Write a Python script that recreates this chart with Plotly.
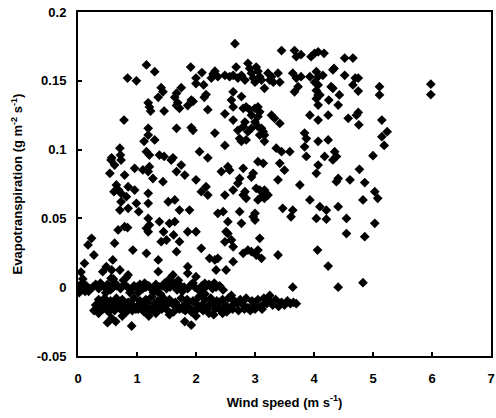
import plotly.graph_objects as go

# --- data (wind speed m/s, evapotranspiration g m-2 s-1) ---

# upper cloud, ET above ~0.09
upper_wind = [
    1.16, 1.30, 0.84, 0.99, 1.91, 2.10, 2.29, 2.32, 2.26, 2.00, 2.00, 2.13, 2.17, 2.14,
    1.75, 1.67, 1.64, 1.69, 1.67, 1.72, 1.41, 1.44, 1.36, 1.92, 1.86, 1.95, 1.19, 1.21,
    1.23, 1.46, 2.20, 0.78, 1.67, 1.92, 1.95, 2.32, 1.19, 1.19, 1.12, 1.30, 0.71, 0.72,
    0.57, 1.16, 1.21, 1.38, 1.46, 1.61, 2.06, 2.20,
    2.66, 3.45, 3.67, 3.70, 3.78, 3.95, 4.01, 4.07, 4.17, 4.52, 4.66, 4.34, 4.52, 4.70,
    2.37, 2.49, 2.57, 2.63, 2.68, 2.71, 2.77, 2.83, 2.88, 2.91, 2.94, 2.97, 3.00, 3.02,
    3.05, 3.08, 3.11, 3.22, 3.28, 3.31, 3.25, 3.39, 3.42, 3.16, 2.63, 2.77, 2.60, 2.63,
    2.49, 2.63, 2.80, 2.85, 2.91, 2.94, 3.00, 3.05, 3.08, 3.05, 3.00, 2.83, 2.80, 2.94,
    3.05, 3.11, 3.14, 3.08, 2.88, 2.71, 2.74, 2.77, 2.85, 3.16, 3.16, 3.28, 3.33, 3.42,
    2.49, 3.36, 3.45, 3.59, 3.64, 3.70, 3.78, 3.67, 3.73, 3.93, 4.04, 4.07, 4.15, 4.01,
    4.07, 4.04, 4.07, 4.04, 4.10, 4.07, 4.29, 4.32, 4.43, 4.25, 4.41, 3.93, 4.07, 4.24,
    4.32, 4.66, 4.72, 4.58, 3.84, 3.87, 4.07, 4.24, 3.84, 3.87, 4.18, 4.35, 4.38,
    4.75, 4.75, 5.11, 5.11, 5.98, 5.98, 4.75, 4.76, 5.15, 5.24, 5.15, 5.19, 5.00,
]
upper_et = [
    0.1615, 0.1566, 0.152, 0.150, 0.160, 0.156, 0.155, 0.157, 0.152, 0.152, 0.148, 0.147, 0.140, 0.138,
    0.145, 0.141, 0.138, 0.134, 0.132, 0.130, 0.145, 0.142, 0.138, 0.136, 0.132, 0.135, 0.134, 0.131,
    0.128, 0.128, 0.129, 0.1215, 0.1155, 0.116, 0.114, 0.112, 0.1155, 0.1106, 0.106, 0.107, 0.101, 0.096,
    0.094, 0.0985, 0.096, 0.096, 0.095, 0.094, 0.0985, 0.094,
    0.177, 0.172, 0.172, 0.1675, 0.169, 0.1675, 0.170, 0.171, 0.170, 0.1665, 0.1665, 0.159, 0.154, 0.152,
    0.153, 0.154, 0.153, 0.154, 0.160, 0.152, 0.154, 0.1505, 0.1627, 0.159, 0.1555, 0.152, 0.149, 0.160,
    0.157, 0.153, 0.1505, 0.1555, 0.153, 0.149, 0.1505, 0.1555, 0.149, 0.1445, 0.142, 0.1385, 0.136, 0.131,
    0.126, 0.1215, 0.130, 0.131, 0.129, 0.125, 0.130, 0.131, 0.1275, 0.124, 0.120, 0.120, 0.1167, 0.1155,
    0.1167, 0.1155, 0.113, 0.1106, 0.113, 0.114, 0.108, 0.106, 0.107, 0.106, 0.1106, 0.125, 0.1227, 0.119,
    0.103, 0.101, 0.0985, 0.0985, 0.1555, 0.152, 0.153, 0.142, 0.1457, 0.153, 0.1566, 0.153, 0.154, 0.149,
    0.147, 0.143, 0.1397, 0.137, 0.1397, 0.1324, 0.1457, 0.1445, 0.1397, 0.136, 0.1324, 0.125, 0.1215, 0.125,
    0.158, 0.147, 0.125, 0.1227, 0.112, 0.108, 0.106, 0.107, 0.102, 0.095, 0.095, 0.0985, 0.095,
    0.152, 0.1425, 0.1457, 0.1397, 0.1475, 0.140, 0.127, 0.118, 0.1215, 0.113, 0.1094, 0.103, 0.0956,
]

# middle cloud, ET roughly 0.003 to 0.09
middle_wind = [
    4.77, 4.86, 5.03, 5.08, 4.83, 5.03, 4.86, 4.83,
    2.54, 2.57, 2.43, 2.80, 2.97, 2.94, 2.74, 2.71, 2.63, 2.83, 2.80, 2.85, 2.49, 3.05,
    3.14, 3.42, 3.50, 3.39, 3.76, 4.07, 4.04, 4.32, 4.41, 4.38, 4.61,
    3.02, 3.08, 3.16, 3.19, 3.11, 3.05, 3.16, 3.22, 3.93,
    3.47, 3.64, 3.61, 4.10, 4.21, 4.41, 4.04, 4.21, 4.55, 4.55,
    2.46, 2.37, 2.74, 3.00, 2.97, 3.00, 2.54, 2.77, 2.51, 2.54, 2.49, 2.60, 2.63, 3.08,
    2.88, 2.80, 2.94, 3.05, 3.02, 3.11, 3.39, 2.37, 2.63, 2.51, 4.06, 4.24, 4.41, 3.64,
    0.56, 0.62, 0.73, 0.54, 0.79, 0.96, 1.10, 1.21, 1.27, 1.44, 1.19, 1.58, 1.75, 1.67,
    1.81, 2.00, 2.17, 2.09, 2.20,
    0.65, 0.61, 0.69, 0.73, 0.85, 0.82, 0.96, 0.73, 1.19, 0.99, 0.71, 0.85, 1.03, 1.19,
    1.53, 1.64, 1.72, 1.89, 1.19, 1.38, 1.55, 1.64, 1.21, 1.16, 1.19, 0.68, 0.79, 0.84,
    1.45, 1.50, 1.41, 1.62, 1.72, 1.86, 2.00, 0.23, 0.17, 0.62, 0.93, 1.16, 1.67, 2.09,
    0.27, 0.11, 0.59, 0.48, 0.42, 0.71, 0.57, 1.36, 0.85, 1.36, 1.61, 1.86, 1.86, 2.00,
    2.15, 2.32, 2.23, 2.34, 0.05, 0.08,
]
middle_et = [
    0.0857, 0.076, 0.0694, 0.0646, 0.0634, 0.0464, 0.0367, 0.0033,
    0.0876, 0.085, 0.084, 0.0864, 0.0828, 0.080, 0.079, 0.0755, 0.0706, 0.0694, 0.067, 0.0646, 0.067, 0.0912,
    0.090, 0.090, 0.085, 0.078, 0.0743, 0.0888, 0.0828, 0.0925, 0.079, 0.0767, 0.078,
    0.0719, 0.0706, 0.0706, 0.0682, 0.0658, 0.0634, 0.0646, 0.067, 0.0634,
    0.0573, 0.056, 0.0512, 0.0585, 0.056, 0.0585, 0.050, 0.0494, 0.050, 0.039,
    0.0549, 0.0537, 0.0549, 0.0537, 0.0512, 0.0488, 0.0476, 0.0464, 0.0403, 0.039, 0.033, 0.0343, 0.0294, 0.0355,
    0.027, 0.0246, 0.0258, 0.027, 0.0234, 0.021, 0.0234, 0.021, 0.0185, 0.0125, 0.027, 0.0154, 0.0, 0.0,
    0.0924, 0.0888, 0.0924, 0.0828, 0.0815, 0.0864, 0.0852, 0.0876, 0.079, 0.0767, 0.084, 0.0924, 0.0888, 0.084,
    0.0815, 0.078, 0.073, 0.0694, 0.067,
    0.0743, 0.0694, 0.0706, 0.0682, 0.073, 0.0658, 0.0706, 0.0621, 0.0682, 0.061, 0.0561, 0.0573, 0.0549, 0.061,
    0.0621, 0.0634, 0.0561, 0.0561, 0.050, 0.0476, 0.0464, 0.0476, 0.0452, 0.0428, 0.0403, 0.0416, 0.044, 0.0433,
    0.0403, 0.0343, 0.0331, 0.038, 0.0331, 0.0403, 0.0403, 0.0355, 0.0307, 0.032, 0.027, 0.0246, 0.0258, 0.0283,
    0.0234, 0.0174, 0.0198, 0.0149, 0.0113, 0.0125, 0.0125, 0.0198, 0.0089, 0.0113, 0.0089, 0.0149, 0.0101, 0.0076,
    0.0028, 0.0198, 0.021, 0.0125, 0.011, 0.006,
]

# row along zero, roughly 0 to 2.4 m/s
zero_wind = [
    0.00, 0.03, 0.06, 0.10, 0.14, 0.20, 0.25, 0.30, 0.35, 0.40, 0.45, 0.50, 0.55, 0.60,
    0.66, 0.72, 0.78, 0.84, 0.90, 0.95, 1.00, 1.05, 1.10, 1.15, 1.20, 1.26, 1.32, 1.38,
    1.44, 1.50, 1.56, 1.62, 1.68, 1.74, 1.80, 1.86, 1.92, 1.98, 2.04, 2.10, 2.16, 2.22,
    2.28, 2.34, 2.40, 0.60, 0.77, 0.82, 1.55, 1.60, 1.70, 0.56, 0.02, 0.12, 1.02, 1.34,
    0.08, 0.18, 0.38, 0.47, 0.63, 0.88, 1.13, 1.28, 1.47, 1.77, 1.95, 2.13, 2.31, 2.46,
]
zero_et = [
    0.001, -0.002, 0.002, 0.0, 0.001, -0.001, 0.0, 0.002, -0.001, 0.001, 0.0, 0.002, -0.002, 0.0,
    0.001, -0.001, 0.002, 0.0, -0.002, 0.001, 0.0, 0.002, -0.001, 0.0, 0.001, -0.002, 0.002, 0.0,
    0.001, -0.001, 0.0, 0.002, -0.002, 0.001, 0.0, -0.001, 0.002, 0.0, -0.002, 0.001, 0.0, 0.002,
    -0.001, 0.0, 0.001, 0.006, 0.005, 0.007, 0.006, 0.004, 0.005, 0.0065, -0.004, -0.003, -0.004, -0.003,
    0.003, -0.003, 0.003, -0.004, 0.003, -0.004, 0.003, -0.004, 0.003, -0.003, 0.003, -0.004, 0.003, -0.002,
]

# dense negative band, roughly 0.3 to 3.7 m/s
band_wind = [
    0.35, 0.45, 0.55, 0.65, 0.75, 0.85, 0.95, 1.05, 1.15, 1.25, 1.35, 1.45, 1.55, 1.65,
    1.75, 1.85, 1.95, 2.05, 2.15, 2.25, 2.35, 2.45, 2.55, 2.65, 2.75, 2.85, 2.95, 3.05,
    3.15, 3.25, 3.35, 3.45, 3.55, 3.65,
    0.30, 0.40, 0.50, 0.60, 0.70, 0.80, 0.90, 1.00, 1.10, 1.20, 1.30, 1.40, 1.50, 1.60,
    1.70, 1.80, 1.90, 2.00, 2.10, 2.20, 2.30, 2.40, 2.50, 2.60, 2.70, 2.80, 2.90, 3.00,
    3.10, 3.20, 3.30, 3.40, 3.50, 3.60, 3.70,
    0.32, 0.42, 0.52, 0.62, 0.72, 0.82, 0.92, 1.02, 1.12, 1.22, 1.32, 1.42, 1.52, 1.62,
    1.72, 1.82, 1.92, 2.02, 2.12, 2.22, 2.32, 2.42, 2.52, 2.62, 2.72, 2.82, 2.92, 3.00, 3.12,
    0.57, 0.50, 0.64, 0.91, 1.81, 1.92, 2.00, 2.30, 2.45, 1.55, 1.20, 0.35, 0.27, 0.75,
    1.40, 2.15, 2.60, 3.25,
    0.38, 0.58, 0.78, 0.98, 1.18, 1.38, 1.58, 1.78, 1.98, 2.18, 2.38, 2.58, 2.78, 2.98,
    0.47, 0.67, 0.87, 1.07, 1.27, 1.47, 1.67, 1.87, 2.07, 2.27, 2.47, 2.67, 2.87, 3.18,
]
band_et = [
    -0.009, -0.008, -0.010, -0.008, -0.009, -0.011, -0.008, -0.010, -0.009, -0.007, -0.010, -0.008, -0.009, -0.011,
    -0.008, -0.009, -0.010, -0.007, -0.009, -0.008, -0.010, -0.009, -0.008, -0.010, -0.009, -0.008, -0.010, -0.009,
    -0.008, -0.010, -0.009, -0.011, -0.010, -0.011,
    -0.013, -0.014, -0.012, -0.013, -0.015, -0.013, -0.012, -0.014, -0.013, -0.015, -0.012, -0.014, -0.013, -0.012,
    -0.014, -0.013, -0.015, -0.012, -0.013, -0.014, -0.012, -0.015, -0.013, -0.014, -0.012, -0.013, -0.015, -0.013,
    -0.014, -0.012, -0.013, -0.014, -0.013, -0.012, -0.012,
    -0.017, -0.016, -0.018, -0.017, -0.016, -0.018, -0.017, -0.016, -0.018, -0.017, -0.019, -0.016, -0.017, -0.018,
    -0.016, -0.017, -0.018, -0.016, -0.017, -0.019, -0.016, -0.017, -0.018, -0.016, -0.017, -0.016, -0.017, -0.016, -0.016,
    -0.0226, -0.0258, -0.025, -0.0282, -0.025, -0.0275, -0.021, -0.020, -0.019, -0.020, -0.021, -0.019, -0.017, -0.021,
    -0.005, -0.005, -0.006, -0.006,
    -0.011, -0.015, -0.011, -0.016, -0.011, -0.016, -0.011, -0.016, -0.011, -0.016, -0.011, -0.015, -0.011, -0.015,
    -0.015, -0.011, -0.015, -0.011, -0.015, -0.011, -0.015, -0.011, -0.015, -0.011, -0.015, -0.011, -0.015, -0.011,
]

x_ticks = [0, 1, 2, 3, 4, 5, 6, 7]
y_ticks = [-0.05, 0, 0.05, 0.1, 0.15, 0.2]
y_tick_text = ["-0.05", "0", "0.05", "0.1", "0.15", "0.2"]

wind = upper_wind + middle_wind + zero_wind + band_wind
et = upper_et + middle_et + zero_et + band_et

font = dict(family="Liberation Sans, Arial, sans-serif", color="black", weight="bold")

fig = go.Figure(go.Scatter(
    x=wind, y=et, mode="markers",
    marker=dict(symbol="diamond", size=7.5, color="black", line=dict(width=0)),
    showlegend=False,
))

axis_common = dict(
    showline=True, linecolor="black", linewidth=2, mirror=True,
    ticks="inside", ticklen=4, tickwidth=1.5, tickcolor="black",
    showgrid=False, zeroline=False, automargin=False,
    tickfont=dict(font, size=13),
)

fig.update_layout(
    width=496, height=418,
    margin=dict(l=78, r=5, t=12, b=62),
    paper_bgcolor="white", plot_bgcolor="white",
    font=font,
    xaxis=dict(axis_common, range=[0, 7], tickvals=x_ticks, ticklabelstandoff=9,
               title=dict(text="Wind speed (m s<sup>-1</sup>)", font=dict(font, size=13), standoff=13)),
    yaxis=dict(axis_common, range=[-0.05, 0.2], tickvals=y_ticks, ticktext=y_tick_text,
               ticklabelstandoff=7,
               title=dict(text="Evapotranspiration (g m<sup>-2</sup> s<sup>-1</sup>)",
                          font=dict(font, size=13), standoff=11)),
)

# drop the default body margin so the figure sits at the page corner
fig.write_html(
    "out.html",
    config={"displayModeBar": False},
    post_script="document.body.style.margin='0';document.body.style.overflow='hidden';",
)
